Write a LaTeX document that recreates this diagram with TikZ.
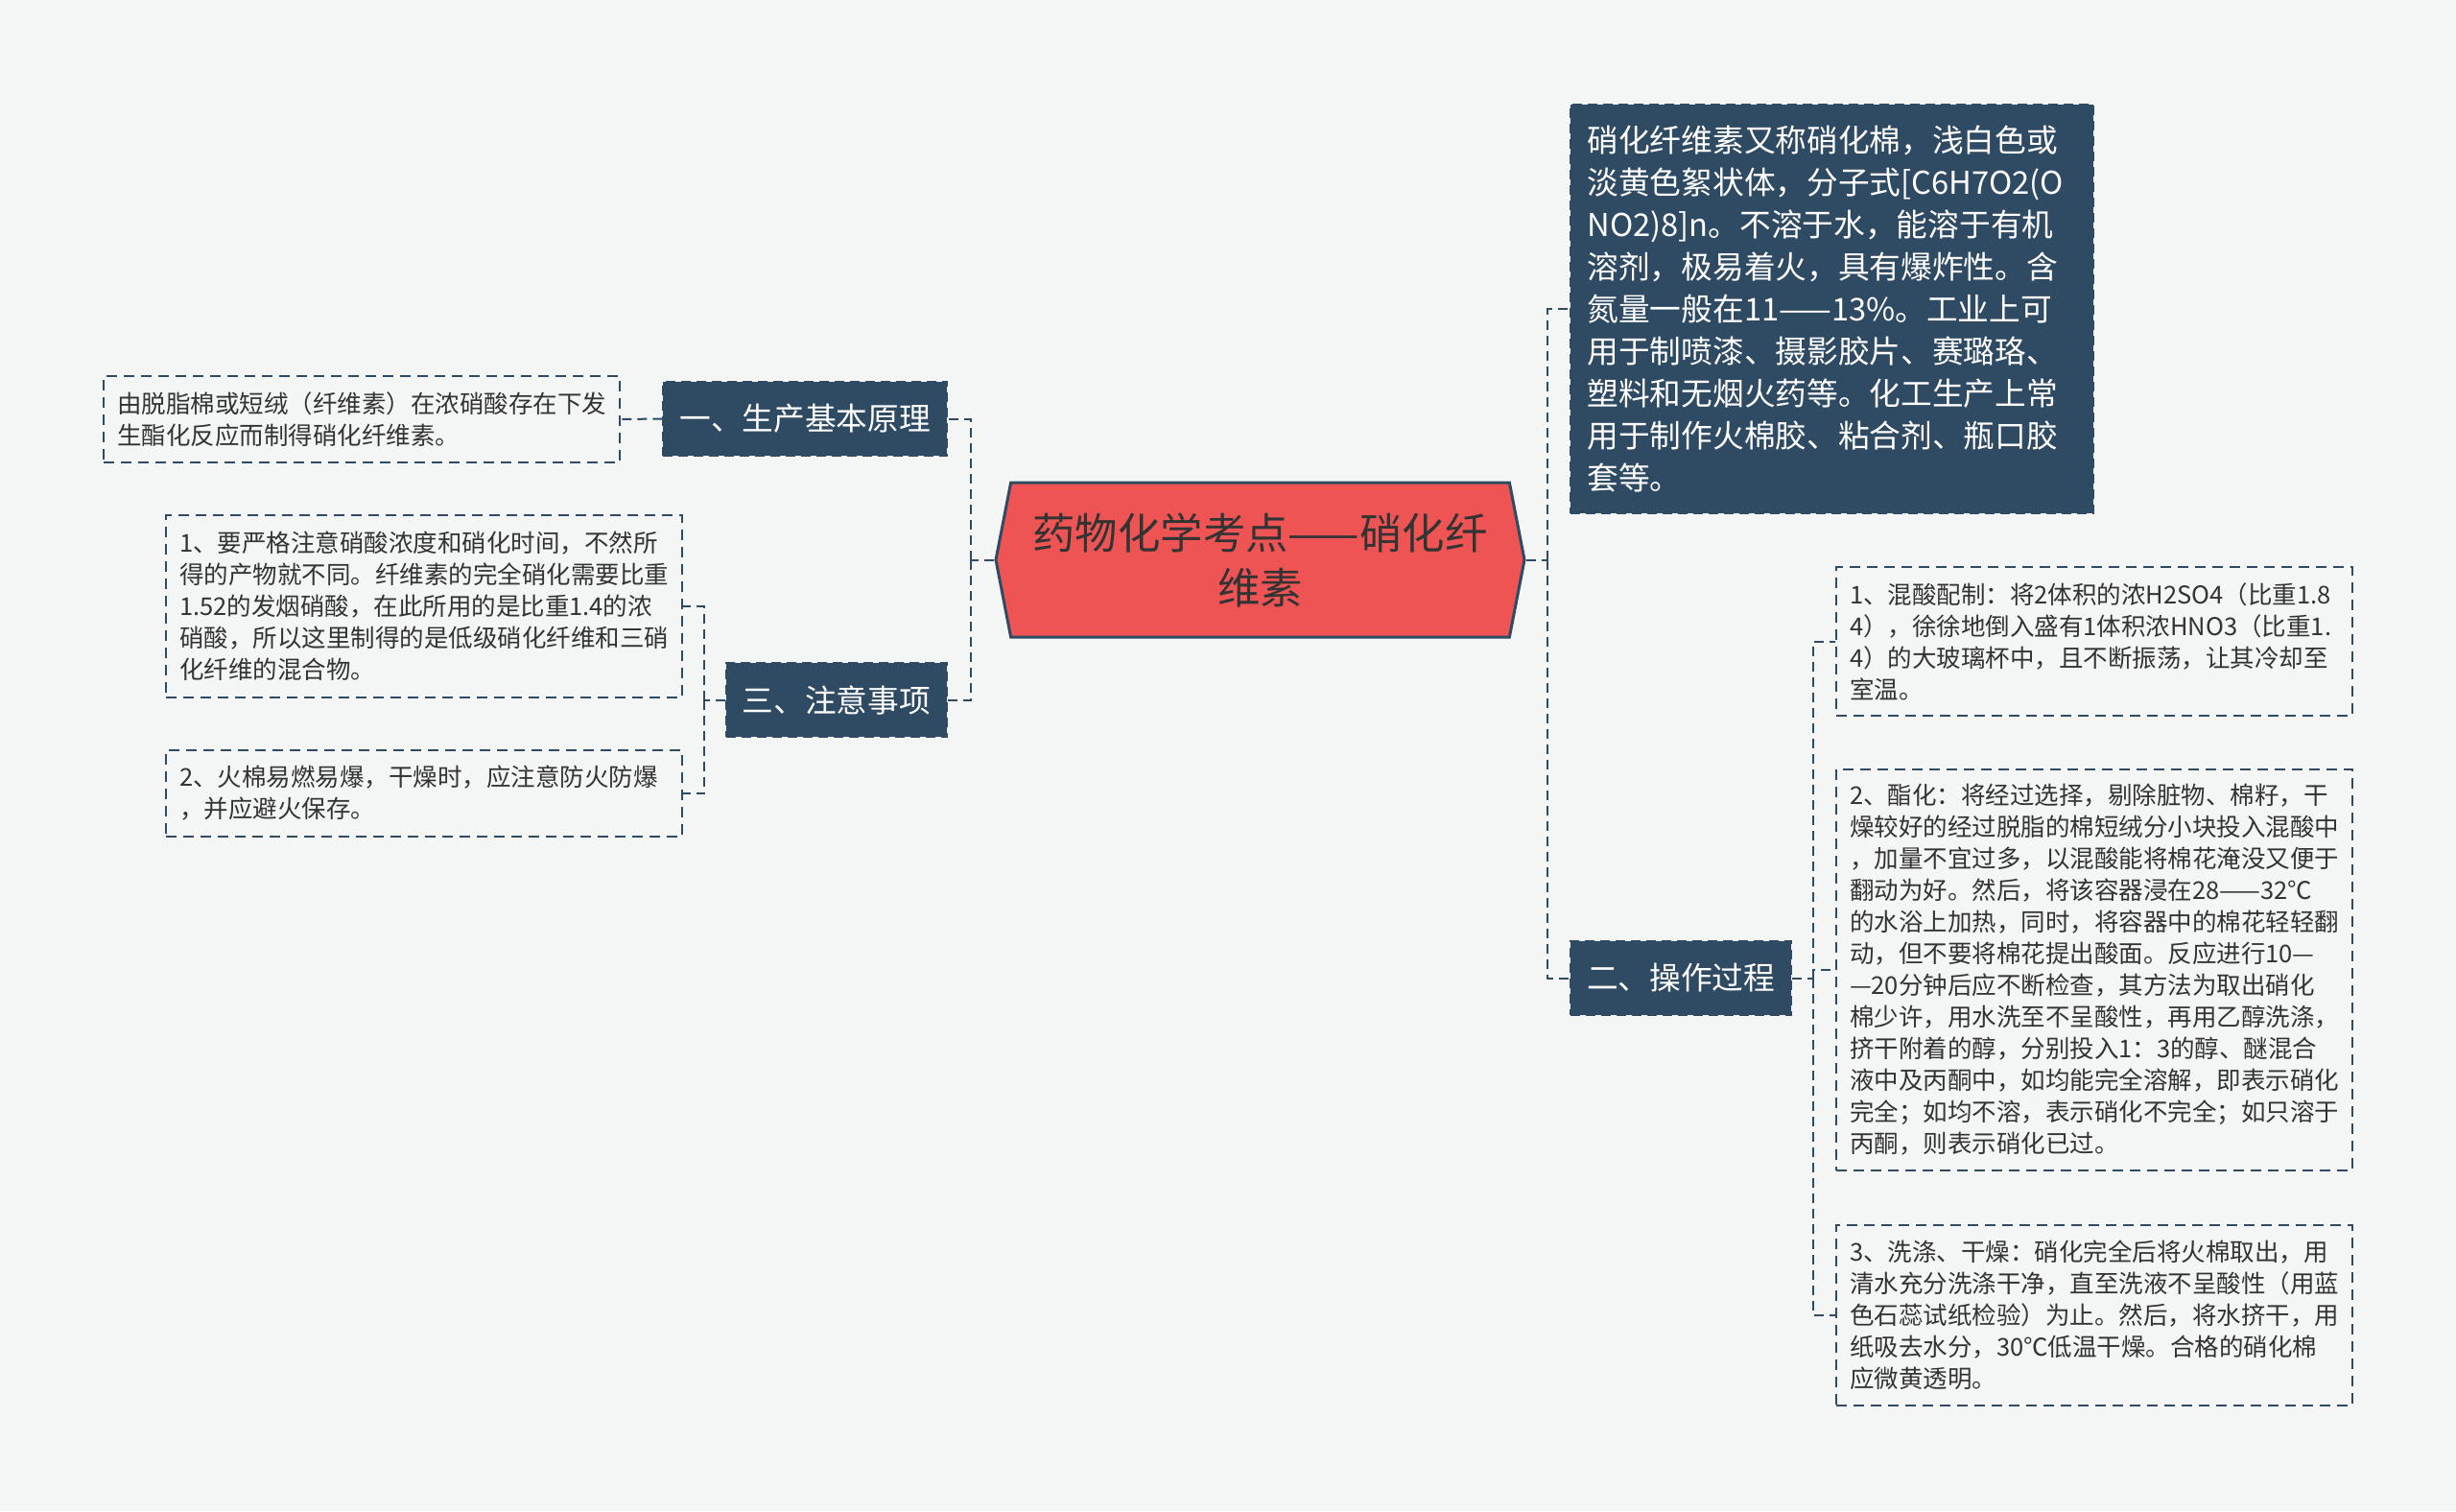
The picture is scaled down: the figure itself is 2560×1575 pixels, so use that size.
\documentclass[tikz,border=0pt]{standalone}
\usepackage{fontspec}
\setmainfont{Noto Sans CJK SC}
\usetikzlibrary{shapes.symbols}
\definecolor{slate}{HTML}{2F4A63}
\definecolor{rootred}{HTML}{EF5455}
\definecolor{ink}{HTML}{333333}
\definecolor{paper}{HTML}{F4F5F5}
\tikzset{
  link/.style={draw=slate, line width=2pt, dash pattern=on 10pt off 6pt},
  rootbox/.style={signal, signal to=east and west, signal pointer angle=158,
    fill=rootred, draw=slate, line width=3pt, text=ink, align=center,
    minimum width=551pt, minimum height=161pt, inner sep=0pt,
    font=\fontsize{44.4}{57}\selectfont},
  branchbox/.style={fill=slate, draw=slate, line width=2pt, dash pattern=on 10pt off 6pt,
    text=white, inner xsep=17pt, inner ysep=0pt, minimum height=77pt,
    font=\fontsize{32.7}{44}\selectfont},
  notebox/.style={draw=slate, line width=2pt, dash pattern=on 11pt off 7pt,
    text=ink, align=left, text width=510pt, inner xsep=14pt, inner ysep=0pt,
    font=\fontsize{25.5}{33}\selectfont}
}
\begin{document}
\begin{tikzpicture}[x=1pt,y=-1pt]
  \fill[paper] (0,0) rectangle (2560,1575);
  \node[rootbox] (root) at (1313.5,583.5) {药物化学考点——硝化纤\\维素};
  \node[branchbox, anchor=east] (yi) at (988,436.5) {一、生产基本原理};
  \node[branchbox, anchor=east] (san) at (988,729.5) {三、注意事项};
  \node[branchbox, anchor=west] (er) at (1636,1019.5) {二、操作过程};
  \node[branchbox, text width=510pt, align=left, inner xsep=17.5pt, minimum height=426pt,
    anchor=west] (intro) at (1636,322) {硝化纤维素又称硝化棉，浅白色或\\淡黄色絮状体，分子式[C6H7O2(O\\NO2)8]n。不溶于水，能溶于有机\\溶剂，极易着火，具有爆炸性。含\\氮量一般在11——13\%。工业上可\\用于制喷漆、摄影胶片、赛璐珞、\\塑料和无烟火药等。化工生产上常\\用于制作火棉胶、粘合剂、瓶口胶\\套等。};
  \node[notebox, minimum height=90pt, anchor=east] (yuan) at (647,437) {由脱脂棉或短绒（纤维素）在浓硝酸存在下发\\生酯化反应而制得硝化纤维素。};
  \node[notebox, minimum height=190pt, anchor=east] (zhu1) at (712,632) {1、要严格注意硝酸浓度和硝化时间，不然所\\得的产物就不同。纤维素的完全硝化需要比重\\1.52的发烟硝酸，在此所用的是比重1.4的浓\\硝酸，所以这里制得的是低级硝化纤维和三硝\\化纤维的混合物。};
  \node[notebox, minimum height=90pt, anchor=east] (zhu2) at (712,827) {2、火棉易燃易爆，干燥时，应注意防火防爆\\，并应避火保存。};
  \node[notebox, minimum height=155pt, anchor=west] (cao1) at (1913,668.5) {1、混酸配制：将2体积的浓H2SO4（比重1.8\\4），徐徐地倒入盛有1体积浓HNO3（比重1.\\4）的大玻璃杯中，且不断振荡，让其冷却至\\室温。};
  \node[notebox, minimum height=418pt, anchor=west] (cao2) at (1913,1011) {2、酯化：将经过选择，剔除脏物、棉籽，干\\燥较好的经过脱脂的棉短绒分小块投入混酸中\\，加量不宜过多，以混酸能将棉花淹没又便于\\翻动为好。然后，将该容器浸在28——32℃\\的水浴上加热，同时，将容器中的棉花轻轻翻\\动，但不要将棉花提出酸面。反应进行10—\\—20分钟后应不断检查，其方法为取出硝化\\棉少许，用水洗至不呈酸性，再用乙醇洗涤，\\挤干附着的醇，分别投入1：3的醇、醚混合\\液中及丙酮中，如均能完全溶解，即表示硝化\\完全；如均不溶，表示硝化不完全；如只溶于\\丙酮，则表示硝化已过。};
  \node[notebox, minimum height=188pt, anchor=west] (cao3) at (1913,1371) {3、洗涤、干燥：硝化完全后将火棉取出，用\\清水充分洗涤干净，直至洗液不呈酸性（用蓝\\色石蕊试纸检验）为止。然后，将水挤干，用\\纸吸去水分，30℃低温干燥。合格的硝化棉\\应微黄透明。};
  \coordinate (jL) at (1012,583.5);
  \coordinate (jR) at (1613,583.5);
  \coordinate (jN) at (734,729.5);
  \coordinate (jD) at (1890,1019.5);
  \draw[link] (root.west) -- (jL);
  \draw[link] (jL) |- (yi.east);
  \draw[link] (jL) |- (san.east);
  \draw[link] (root.east) -- (jR);
  \draw[link] (jR) |- (intro.west);
  \draw[link] (jR) |- (er.west);
  \draw[link] (yi.west) -- (yuan.east);
  \draw[link] (san.west) -- (jN);
  \draw[link] (jN) |- (zhu1.east);
  \draw[link] (jN) |- (zhu2.east);
  \draw[link] (er.east) -- (jD);
  \draw[link] (jD) |- (cao1.west);
  \draw[link] (jD) |- (cao2.west);
  \draw[link] (jD) |- (cao3.west);
\end{tikzpicture}
\end{document}
